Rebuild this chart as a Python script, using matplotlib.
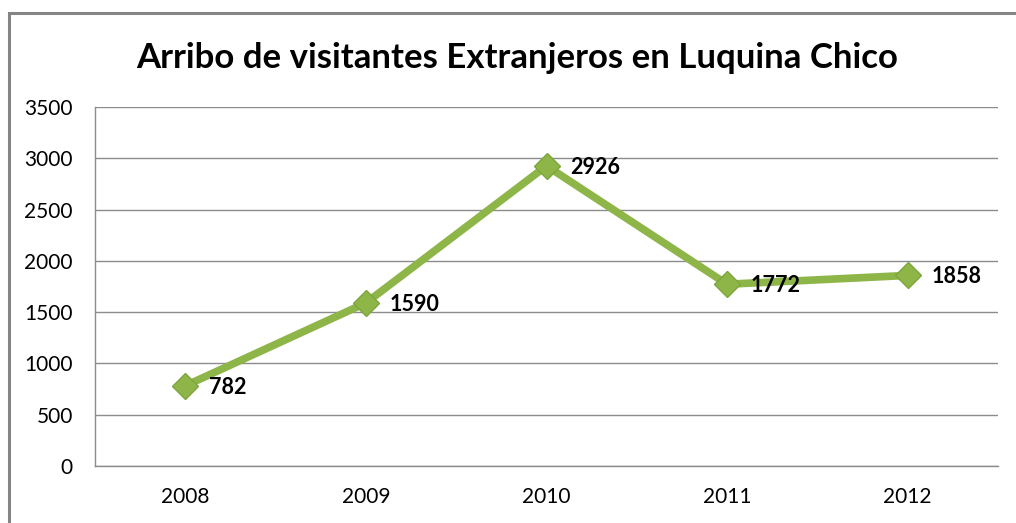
import matplotlib
matplotlib.use("Agg")
import matplotlib.pyplot as plt
from matplotlib.patches import Rectangle

years = ["2008", "2009", "2010", "2011", "2012"]
visitors = [782, 1590, 2926, 1772, 1858]
y_ticks = [0, 500, 1000, 1500, 2000, 2500, 3000, 3500]

plt.rcParams["font.family"] = ["Lato", "DejaVu Sans"]

fig = plt.figure(figsize=(10.16, 5.23), dpi=100)
ax = fig.add_axes([95 / 1016, 57 / 523, 903 / 1016, 359 / 523])

#outer chart frame, cut off at right and bottom like the original
fig.patches.append(Rectangle((9 / 1016, -0.1), 1.2, 0.1 + (523 - 13) / 523,
                             transform=fig.transFigure, fill=False,
                             edgecolor="#858585", linewidth=2.2, zorder=0))

x = list(range(len(years)))
ax.plot(x, visitors, color="#8db548", linewidth=5.5, solid_capstyle="round",
        marker="D", markersize=13.5, markerfacecolor="#8db548",
        markeredgecolor="#7ea63c", zorder=3)

for xi, v in zip(x, visitors):
    ax.annotate(str(v), (xi, v), xytext=(17, -1), textcoords="offset points",
                ha="left", va="center", fontsize=15.5, fontweight="bold", color="black")

ax.set_xlim(-0.5, len(years) - 0.5)
ax.set_ylim(0, 3500)
ax.set_yticks(y_ticks)
ax.set_xticks(x)
ax.set_xticklabels(years)
ax.tick_params(axis="both", length=0, labelsize=15, colors="black")
ax.tick_params(axis="y", pad=16)
ax.tick_params(axis="x", pad=15)
ax.grid(axis="y", color="#8c8c8c", linewidth=1)
ax.set_axisbelow(True)
for side in ["top", "right"]:
    ax.spines[side].set_visible(False)
for side in ["left", "bottom"]:
    ax.spines[side].set_color("#8c8c8c")
    ax.spines[side].set_linewidth(1)

fig.text(517 / 1016, 1 - 58 / 523, "Arribo de visitantes Extranjeros en Luquina Chico",
         ha="center", va="center", fontsize=25, fontweight="bold")

fig.savefig("out.png", dpi=100)
